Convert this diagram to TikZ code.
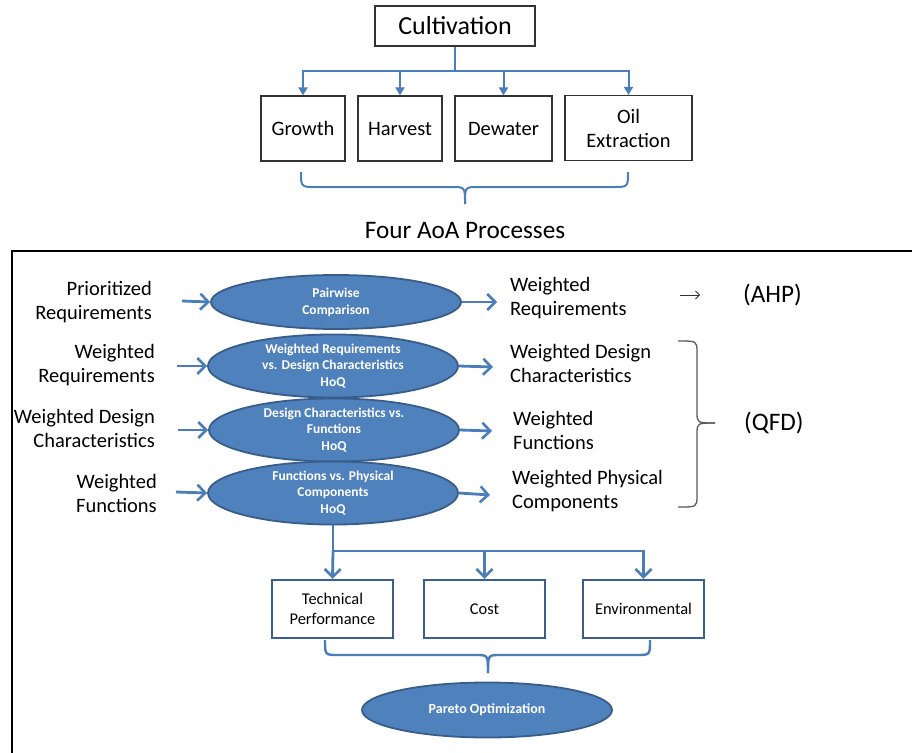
\documentclass[tikz,border=0pt]{standalone}
\usepackage{fontspec}
\setmainfont{Carlito}
\usetikzlibrary{shapes.geometric,arrows.meta}
\definecolor{arrblue}{HTML}{4A7EBB}
\definecolor{ellfill}{HTML}{4F81BD}
\definecolor{elldraw}{HTML}{385D8A}
\definecolor{boxdraw}{HTML}{3A5F8C}
\tikzset{
  topbox/.style={draw=black!80, line width=1.2pt, fill=white, minimum height=65pt, inner sep=2pt, align=center, font=\fontsize{20.5}{24}\selectfont},
  botbox/.style={draw=boxdraw, line width=2.4pt, fill=white, minimum width=121pt, minimum height=58pt, inner sep=2pt, align=center, font=\fontsize{16.4}{20}\selectfont},
  oval/.style={ellipse, draw=elldraw, line width=1.8pt, fill=ellfill, minimum width=250pt, minimum height=54pt, inner sep=0pt, align=center, text=white, font=\bfseries\fontsize{13.5}{16.7}\selectfont},
  lbl/.style={align=right, inner sep=0pt, font=\fontsize{20.5}{24}\selectfont},
  rlbl/.style={align=left, inner sep=0pt, font=\fontsize{20.5}{24}\selectfont},
  big/.style={inner sep=0pt, font=\fontsize{25.2}{30}\selectfont},
  arr/.style={draw=arrblue, line width=2.8pt, -{Straight Barb[length=8pt,width=16pt,line width=2.6pt]}},
  toparr/.style={draw=arrblue, line width=2pt, -{Triangle[length=8pt,width=9pt]}},
  bluebrace/.style={draw=arrblue, line width=2pt},
  graybrace/.style={draw=black!65, line width=1.3pt},
}
\begin{document}
\begin{tikzpicture}[x=1pt,y=-1pt]
\useasboundingbox (0,0) rectangle (912,752);
% top part
\node[draw=black!80, line width=1.2pt, minimum width=160pt, minimum height=40pt, inner sep=0pt, font=\fontsize{26}{30}\selectfont] (cult) at (455,26) {Cultivation};
\node[topbox, minimum width=84pt] (growth) at (303,128.5) {Growth};
\node[topbox, minimum width=84pt] (harvest) at (400,128.5) {Harvest};
\node[topbox, minimum width=97pt] (dewater) at (503.5,128.5) {Dewater};
\node[topbox, minimum width=127pt] (oil) at (628.5,128) {Oil\\Extraction};
\coordinate (csplit) at (455,71);
\draw[arrblue, line width=2pt] (cult.south) -- (csplit);
\draw[toparr] (csplit) -| (growth.north);
\draw[toparr] (csplit) -| (harvest.north);
\draw[toparr] (csplit) -| (dewater.north);
\draw[toparr] (csplit) -| (oil.north);
\coordinate (tb1) at (301,172);
\coordinate (tb2) at (628,172);
\coordinate (tbtip) at (465,204);
\draw[bluebrace] (tb1) .. controls (301,187) .. (316,187) -- (452,187) .. controls (465,187) .. (tbtip);
\draw[bluebrace] (tb2) .. controls (628,187) .. (613,187) -- (478,187) .. controls (465,187) .. (tbtip);
\node[big] (four) at (465,231) {Four AoA Processes};
% frame
\draw[line width=2.6pt] (12,753) -- (12,251) -- (913,251);
% row 1
\node[lbl, anchor=east] (l1) at (152,302) {Prioritized\\Requirements};
\node[oval] (e1) at (336,302) {Pairwise\\Comparison};
\node[rlbl, anchor=west] (r1) at (510,298) {Weighted\\Requirements};
\coordinate (a1s) at (182,301);
\draw[arr] (a1s) -- (e1.west);
\coordinate (a1e) at (497,302);
\draw[arr] (e1.east) -- (a1e);
\coordinate (ts) at (680,295);
\coordinate (te) at (700,295);
\draw[black!80, line width=0.8pt, -{Straight Barb[length=4pt,width=8pt]}] (ts) -- (te);
\node[big, anchor=west] (ahp) at (743,295) {(AHP)};
% row 2
\node[lbl, anchor=east] (l2) at (155,365) {Weighted\\Requirements};
\node[oval] (e2) at (333,366) {Weighted Requirements\\vs. Design Characteristics\\HoQ};
\node[rlbl, anchor=west] (r2) at (510,363) {Weighted Design\\Characteristics};
\coordinate (a2s) at (177,366);
\draw[arr] (a2s) -- (e2.west);
\coordinate (a2e) at (493,367);
\draw[arr] (e2.east) -- (a2e);
% row 3
\node[lbl, anchor=east] (l3) at (155,428) {Weighted Design\\Characteristics};
\node[oval] (e3) at (334,430) {Design Characteristics vs.\\Functions\\HoQ};
\node[rlbl, anchor=west] (r3) at (513,430) {Weighted\\Functions};
\coordinate (a3s) at (178,430);
\draw[arr] (a3s) -- (e3.west);
\coordinate (a3e) at (492,431);
\draw[arr] (e3.east) -- (a3e);
% row 4
\node[lbl, anchor=east] (l4) at (157,493) {Weighted\\Functions};
\node[oval] (e4) at (333,493) {Functions vs. Physical\\Components\\HoQ};
\node[rlbl, anchor=west] (r4) at (512,491) {Weighted Physical\\Components};
\coordinate (a4s) at (176,492);
\draw[arr] (a4s) -- (e4.west);
\coordinate (a4e) at (490,495);
\draw[arr] (e4.east) -- (a4e);
% QFD bracket
\coordinate (qb1) at (678,341);
\coordinate (qb2) at (678,507);
\coordinate (qtip) at (715,423);
\draw[graybrace] (qb1) .. controls (697,341) .. (697,352) -- (697,412) .. controls (697,423) .. (qtip);
\draw[graybrace] (qb2) .. controls (697,507) .. (697,496) -- (697,434) .. controls (697,423) .. (qtip);
\node[big, anchor=west] (qfd) at (744,423) {(QFD)};
% bottom
\node[botbox] (tech) at (332.5,609) {Technical\\Performance};
\node[botbox] (cost) at (484.5,609) {Cost};
\node[botbox] (env) at (643.5,609) {Environmental};
\coordinate (bsplit) at (333,551);
\draw[arrblue, line width=2.8pt] (e4.south) -- (bsplit);
\draw[arr] (bsplit) -- (tech.north);
\draw[arr] (bsplit) -| (cost.north);
\draw[arr] (bsplit) -| (env.north);
\coordinate (bb1) at (325,640);
\coordinate (bb2) at (650,640);
\coordinate (bbtip) at (488,673);
\draw[bluebrace, line width=2.4pt] (bb1) .. controls (325,655) .. (338,655) -- (476,655) .. controls (488,655) .. (bbtip);
\draw[bluebrace, line width=2.4pt] (bb2) .. controls (650,655) .. (637,655) -- (500,655) .. controls (488,655) .. (bbtip);
\node[oval, minimum height=55pt, font=\bfseries\fontsize{14}{17}\selectfont] (pareto) at (487,710) {Pareto Optimization};
\end{tikzpicture}
\end{document}
